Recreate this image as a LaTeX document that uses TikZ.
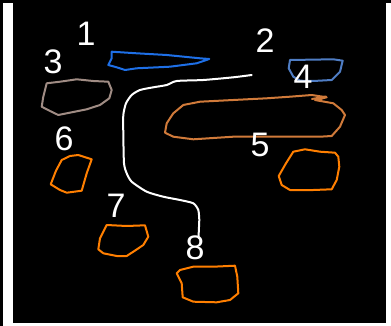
\documentclass[tikz,border=0pt]{standalone}
\usepackage{fontspec}
\setsansfont{Liberation Sans}
\usepackage{tikz}
\usetikzlibrary{positioning,calc}

\definecolor{penblue}{HTML}{1E6FE6}
\definecolor{penslate}{HTML}{4F7DC4}
\definecolor{pentaupe}{HTML}{A08C84}
\definecolor{pencopper}{HTML}{D07A3A}
\definecolor{penorange}{HTML}{FF7F00}

\begin{document}
\begin{tikzpicture}[
		x=1pt, y=-1pt,
		sketch/.style={line width=2pt, line join=round, line cap=round},
		blob/.style={sketch, draw=#1},
		digit/.style={text=white, inner sep=0pt,
			font=\sffamily\fontsize{34}{34}\selectfont}
		]
		% --- 1. Board ---
		\useasboundingbox (0,0) rectangle (391,326);
		\fill[white] (0,0) rectangle (391,326);
		\fill[black] (0,0) rectangle (3,326);
		\fill[black] (0,0) rectangle (391,3);
		\fill[black] (13,3) rectangle (386,323);
		
		% --- 2. Regions ---
		% thin blue strip (1)
		\draw[blob=penblue] plot coordinates {(111.7,51.7) (136.7,53.3) (166.7,55) (200,58.3) (209.3,59)
			(196.7,63.3) (170,66.7) (136.7,68.3) (125,70) (116.7,67.3) (108.3,65) (111.7,58.3)} -- cycle;
		% grey blob (3)
		\draw[blob=pentaupe] plot coordinates {(46.7,83.3) (60,81.7) (76.7,79.3) (93.3,81) (108.3,81.7)
			(111.7,90) (109.3,98.3) (100,105) (86.7,109.3) (66.7,113.3) (58.3,115) (50,111)
			(41.7,106.7) (43.3,96.7)} -- cycle;
		% small blue box (4)
		\draw[blob=penslate] plot coordinates {(290,60) (333.3,59.3) (342.7,60.7) (340,71.7) (331.7,80)
			(313.3,81) (300,80.7) (293.3,76.7) (288.7,68.3)} -- cycle;
		% long band (5)
		\draw[blob=pencopper] plot coordinates {(183.3,105) (200,101.7) (233.3,100) (266.7,98.3) (290,96.7)
			(311.7,95) (326.7,97.3) (315,100) (333.3,103.3) (341.7,110) (345,115) (340,126.7)
			(331.7,136) (320,136.7) (233.3,136.7) (193.3,139.3) (173.3,136.7) (165,132.7)
			(166.7,123.3) (173.3,113.3)} -- cycle;
		\draw[blob=pencopper] (312,99) -- (326,96.5) -- (318,100.5);
		% orange blobs
		\draw[blob=penorange] plot coordinates {(61.7,160) (70,156) (78.3,155) (91.7,159.3) (86.7,173.3)
			(81.7,190.7) (66.7,192.7) (60,190) (50.7,184.3) (56,170.7)} -- cycle;
		\draw[blob=penorange] plot coordinates {(293.3,151.7) (305,149.3) (320,151.7) (335,152.7)
			(338.3,156.7) (339.3,166.7) (336.7,180) (331.7,189.3) (313.3,190) (290,190)
			(281.7,185) (278.7,176) (286,163.3)} -- cycle;
		\draw[blob=penorange] plot coordinates {(106.7,225) (126.7,226) (145,225.3) (148.3,236.7)
			(143.3,245) (133.3,251.7) (126.7,256) (116.7,256) (103.3,253.3) (98.3,249.3)
			(100,238.3)} -- cycle;
		\draw[blob=penorange] plot coordinates {(180,270) (193.3,266.7) (213.3,266.7) (235,265.7)
			(237.3,276.7) (238.3,293.3) (230,300) (216.7,302.3) (193.3,301.7) (182.7,297.3)
			(181.7,283.3) (176.7,273.3)} -- cycle;
		
		% --- 3. Numbers ---
		\node[digit] (n1) at (86,34) {1};
		\node[digit] (n2) at (265,41) {2};
		\node[digit] (n3) at (53,62) {3};
		\node[digit] (n4) at (303,77) {4};
		\node[digit] (n5) at (260,145) {5};
		\node[digit] (n6) at (64,139) {6};
		\node[digit] (n7) at (116,206) {7};
		\node[digit] (n8) at (195,248) {8};
		
		% --- 4. White route (2) down to 8 ---
		\coordinate (route_end) at (198.5,238);
		\draw[sketch, white] plot[smooth, tension=0.4] coordinates {(251.7,75) (233.3,77.3)
			(203.3,80) (176.7,81) (166.7,85) (153.3,87.3) (140,90) (131.7,95) (126,103.3)
			(123.3,115) (123.3,133.3) (124,163.3) (126.7,173.3) (131.7,181.7) (146.7,191.7)
			(163.3,196.7) (180,200) (193.3,203.3) (198.3,210) (199.3,220)} -- (route_end);
		
	\end{tikzpicture}
\end{document}
